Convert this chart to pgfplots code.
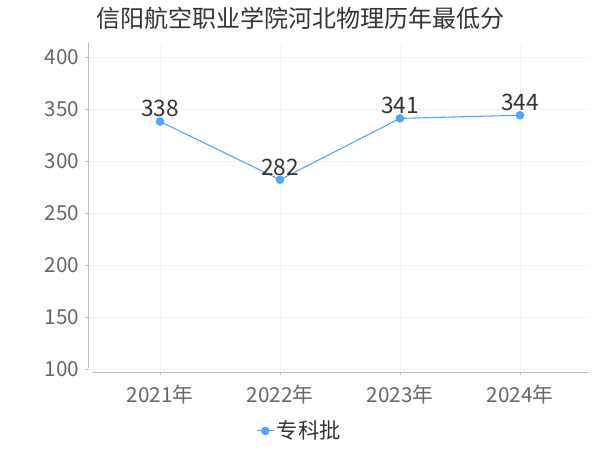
\documentclass[border=0pt]{standalone}
\usepackage{fontspec}
\setmainfont{Noto Sans CJK SC}
\usepackage{pgfplots}
\pgfplotsset{compat=1.18}

\definecolor{lineblue}{HTML}{4DA6FF}
\definecolor{txt}{HTML}{333333}
\definecolor{tick}{HTML}{666666}
\definecolor{axisgray}{HTML}{BBBBBB}
\definecolor{gridc}{HTML}{F3F3F3}

\begin{document}
\begin{tikzpicture}[x=1pt,y=1pt]
\begin{axis}[
    at={(66.375pt,58.5pt)}, anchor=south west,
    scale only axis,
    width=374.6pt, height=246.75pt,
    xmin=-0.596, xmax=3.567,
    ymin=97.1, ymax=413.5,
    xtick={0,1,2,3},
    xticklabels={2021年,2022年,2023年,2024年},
    ytick={100,150,200,250,300,350,400},
    axis line style={draw=none},
    tick pos=left, tick align=outside,
    major tick length=2.6pt,
    tick style={axisgray, line width=0.6pt},
    grid=major,
    major grid style={gridc, line width=0.6pt},
    ticklabel style={font=\fontsize{15.5}{18}\selectfont, text=tick},
    /pgf/number format/assume math mode=true,
    xticklabel style={yshift=-4pt},
    yticklabel style={xshift=-1pt},
    legend style={at={(0.4234,-0.179)}, anchor=center, draw=none, fill=none,
        font=\fontsize{16}{19}\selectfont, text=txt},
    legend image code/.code={
        \draw[mark repeat=2, mark phase=2] plot coordinates {(0cm,0cm) (0.22cm,0cm) (0.44cm,0cm)};},
    clip=false,
]
\draw[axisgray, line width=0.7pt] (rel axis cs:0,0.012) -- (rel axis cs:0,1);
\draw[axisgray, line width=0.7pt] (rel axis cs:0.007,0) -- (rel axis cs:1,0);
\addplot[lineblue, line width=0.8pt, mark=*, mark size=2.8pt,
    mark options={fill=lineblue, draw=lineblue},
    nodes near coords,
    every node near coord/.append style={font=\fontsize{17}{20}\selectfont, text=txt, anchor=south, yshift=-0.5pt},
    point meta=explicit symbolic]
    coordinates {(0,338)[338] (1,282)[282] (2,341)[341] (3,344)[344]};
\addlegendentry{专科批}
\end{axis}
\node[text=txt, font=\fontsize{18}{21}\selectfont] at (225pt,324pt) {信阳航空职业学院河北物理历年最低分};
\pgfresetboundingbox
\path (0,0) rectangle (450pt,337.5pt);
\end{tikzpicture}
\end{document}
